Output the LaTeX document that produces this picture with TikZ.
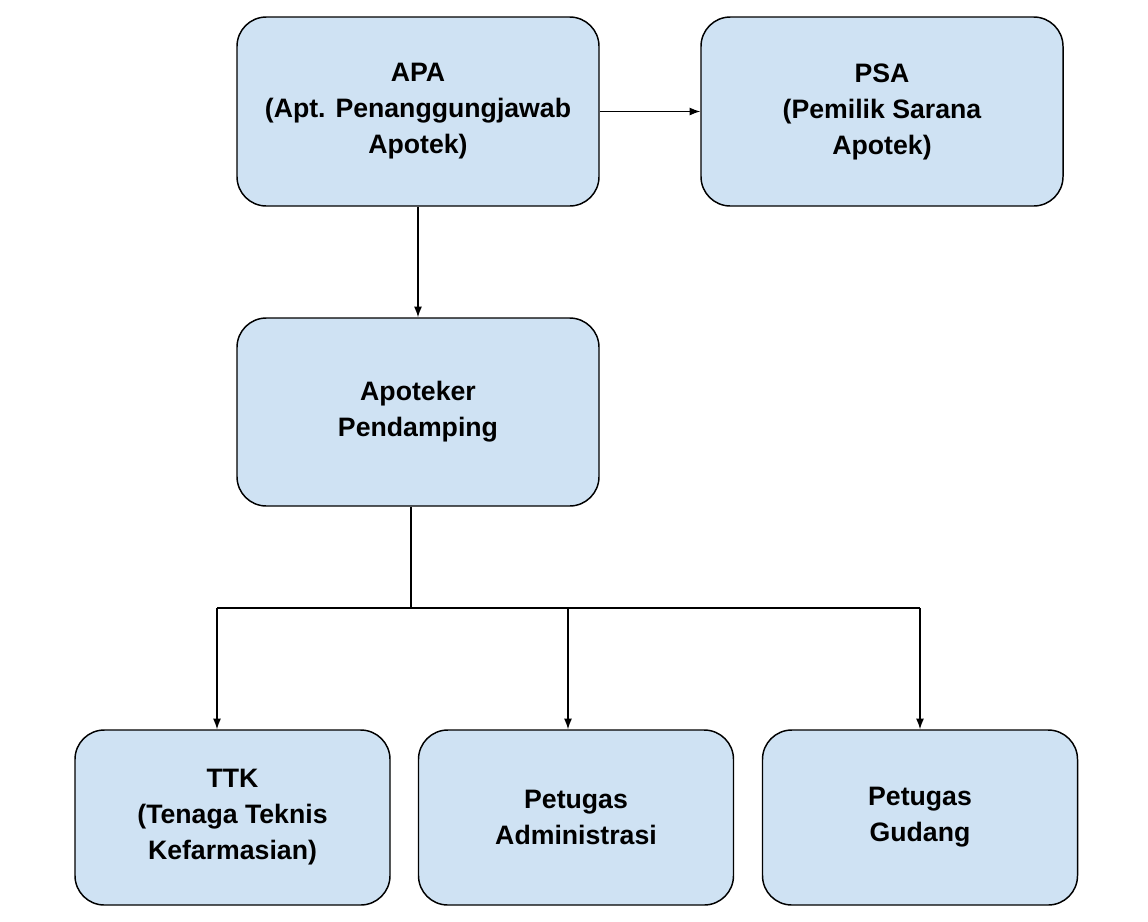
\documentclass[tikz,border=0pt]{standalone}
\usepackage{fontspec}
\setmainfont{Liberation Sans}
\usetikzlibrary{calc,arrows.meta}
\definecolor{boxfill}{RGB}{207,226,243}
\begin{document}
\begin{tikzpicture}[x=0.75pt,y=0.75pt,yscale=-1,xscale=1]
                \tikzset{box/.style={draw=black,line width=1.1pt,fill=boxfill,rounded corners=22pt,align=center,font=\fontsize{20pt}{27pt}\selectfont\bfseries},
                         conn/.style={line width=1pt,-{Latex[length=8pt,width=6pt]}}}
                \useasboundingbox (0,0) rectangle (1148,921);
                % top row
                \node [box,minimum width=271.5pt,minimum height=141.75pt] (apa) at (418,111.5) {APA\\(Apt. Penanggungjawab\\Apotek)};
                \node [box,minimum width=271.5pt,minimum height=141.75pt] (psa) at (882,111.5) {PSA\\(Pemilik Sarana\\Apotek)};
                % middle
                \node [box,minimum width=271.5pt,minimum height=141pt] (pendamping) at (418,412) {Apoteker\\Pendamping};
                % bottom row
                \node [box,minimum width=236.25pt,minimum height=131.25pt] (ttk) at (232.5,817.5) {TTK\\(Tenaga Teknis\\Kefarmasian)};
                \node [box,minimum width=236.25pt,minimum height=131.25pt] (admin) at (576,817.5) {Petugas\\Administrasi};
                \node [box,minimum width=236.25pt,minimum height=131.25pt] (gudang) at (920,817.5) {Petugas\\Gudang};
                % connectors
                \draw [conn] (apa.east) -- (psa.west);
                \draw [conn] (apa) -- (pendamping);
                \coordinate (split) at (411,608);
                \coordinate (splitL) at (217,608);
                \coordinate (splitM) at (568,608);
                \coordinate (splitR) at (920,608);
                \draw [line width=1pt] (pendamping.south -| split) -- (split);
                \draw [line width=1pt] (splitL) -- (splitR);
                \draw [conn] (splitL) -- (splitL |- ttk.north);
                \draw [conn] (splitM) -- (splitM |- admin.north);
                \draw [conn] (splitR) -- (gudang.north);
\end{tikzpicture}
\end{document}
